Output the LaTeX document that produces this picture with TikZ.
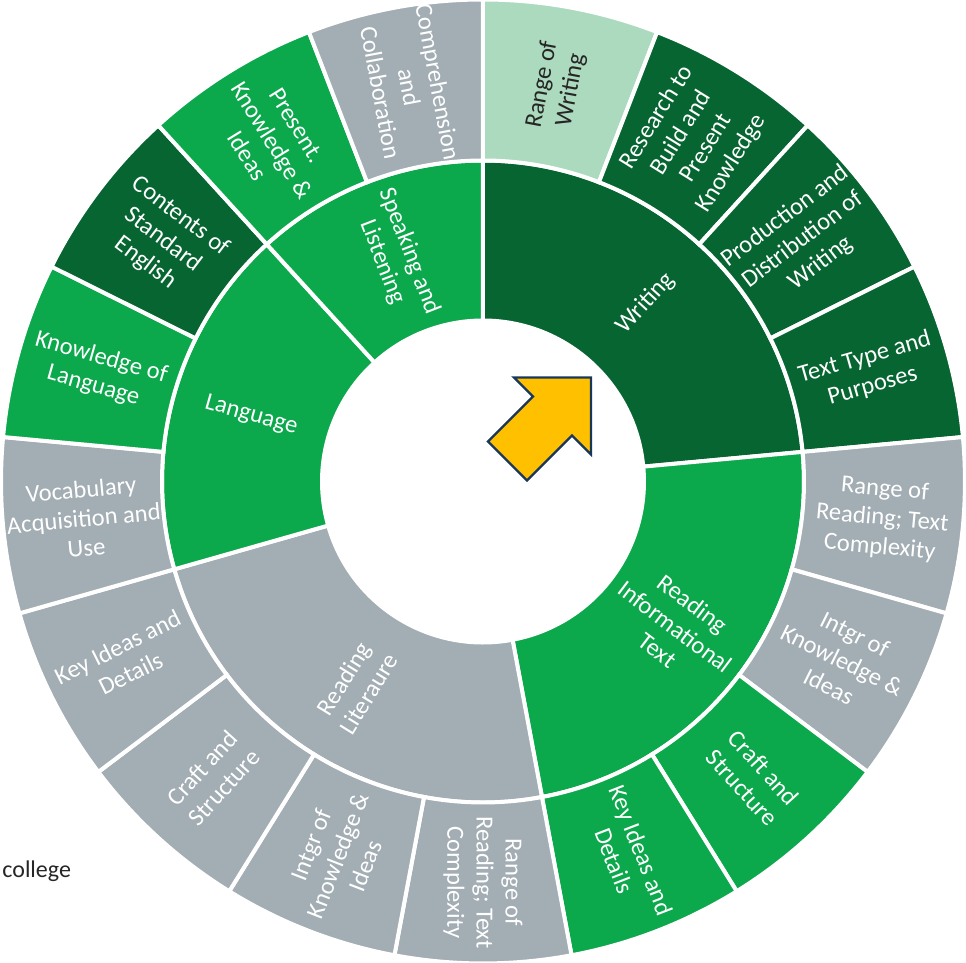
\documentclass[tikz,border=0pt]{standalone}
\usepackage{fontspec}
\setmainfont{Carlito}

\definecolor{darkgr}{RGB}{7,101,50}
\definecolor{midgr}{RGB}{11,168,76}
\definecolor{lightgr}{RGB}{172,218,190}
\definecolor{greyseg}{RGB}{163,173,180}
\definecolor{darktxt}{RGB}{38,38,38}
\definecolor{arrowfill}{RGB}{255,192,0}
\definecolor{arrowline}{RGB}{25,55,90}

\tikzset{
  ring/.style={draw=white, line width=2pt},
  seglabel/.style={text=white, align=center, inner sep=0pt,
    font=\fontsize{12.3}{14.6}\selectfont},
  pointer/.style={fill=arrowfill, draw=arrowline, line width=1.2pt, line join=miter}
}

\begin{document}
\begin{tikzpicture}[x=0.5pt, y=0.5pt]
  \useasboundingbox (-483,-481.5) rectangle (483,481.5);

  % inner ring
  \foreach \s/\e/\fc/\nm/\lbl in {
      0/4/darkgr/Writing/{Writing},
      4/8/midgr/ReadInfo/{Reading\\Informational\\Text},
      8/12/greyseg/ReadLit/{Reading\\Literaure},
      12/15/midgr/Lang/{Language},
      15/17/midgr/Speak/{Speaking and\\Listening}}{
    \pgfmathsetmacro\sa{90-\s*360/17}
    \pgfmathsetmacro\ea{90-\e*360/17}
    \pgfmathsetmacro\ma{(\sa+\ea)/2}
    \pgfmathsetmacro\rot{\ma>-91 ? \ma : \ma+180}
    \path[ring, fill=\fc] (\sa:161) arc[start angle=\sa, end angle=\ea, radius=161]
      -- (\ea:321) arc[start angle=\ea, end angle=\sa, radius=321] -- cycle;
    \node[seglabel, rotate=\rot] (\nm) at (\ma:241) {\lbl};
  }

  % outer ring
  \foreach \k/\fc/\tc/\lbl in {
      0/lightgr/darktxt/{Range of\\Writing},
      1/darkgr/white/{Research to\\Build and\\Present\\Knowledge},
      2/darkgr/white/{Production and\\Distribution of\\Writing},
      3/darkgr/white/{Text Type and\\Purposes},
      4/greyseg/white/{Range of\\Reading; Text\\Complexity},
      5/greyseg/white/{Intgr of\\Knowledge \&\\Ideas},
      6/midgr/white/{Craft and\\Structure},
      7/midgr/white/{Key Ideas and\\Details},
      8/greyseg/white/{Range of\\Reading; Text\\Complexity},
      9/greyseg/white/{Intgr of\\Knowledge \&\\Ideas},
      10/greyseg/white/{Craft and\\Structure},
      11/greyseg/white/{Key Ideas and\\Details},
      12/greyseg/white/{Vocabulary\\Acquisition and\\Use},
      13/midgr/white/{Knowledge of\\Language},
      14/darkgr/white/{Contents of\\Standard\\English},
      15/midgr/white/{Present.\\Knowledge \&\\Ideas},
      16/greyseg/white/{Comprehension\\and\\Collaboration}}{
    \pgfmathsetmacro\sa{90-\k*360/17}
    \pgfmathsetmacro\ea{90-(\k+1)*360/17}
    \pgfmathsetmacro\ma{(\sa+\ea)/2}
    \pgfmathsetmacro\rot{\ma>-91 ? \ma : \ma+180}
    \path[ring, fill=\fc] (\sa:321) arc[start angle=\sa, end angle=\ea, radius=321]
      -- (\ea:482) arc[start angle=\ea, end angle=\sa, radius=482] -- cycle;
    \node[seglabel, text=\tc, rotate=\rot] (leaf\k) at (\ma:401) {\lbl};
  }

  \draw[pointer] (108,104) -- (108,27) -- (89,46) -- (44,1) -- (5,40)
    -- (50,85) -- (31,104) -- cycle;

  \node[anchor=base west, inner sep=0pt, text=darktxt,
    font=\fontsize{12}{14}\selectfont] (college) at (-481,-396.5) {college};
\end{tikzpicture}
\end{document}
